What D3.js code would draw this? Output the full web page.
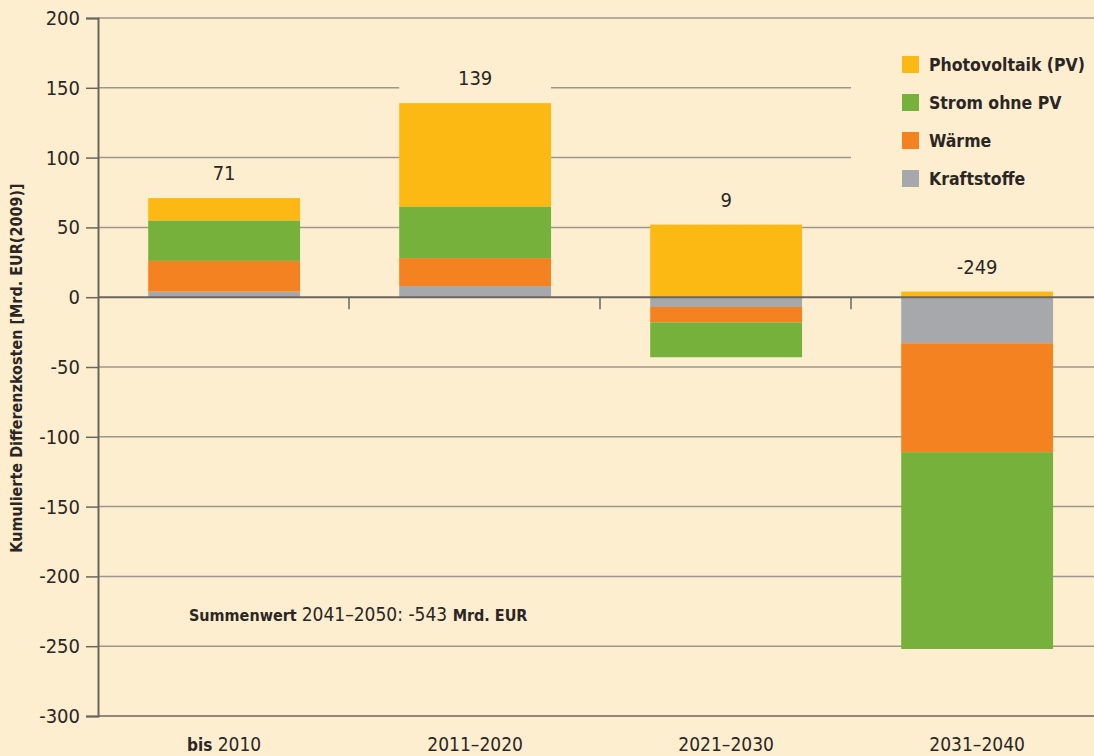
<!DOCTYPE html>
<html>
<head>
<meta charset="utf-8">
<script src="https://cdn.jsdelivr.net/npm/d3@7"></script>
<style>
  body { margin: 0; background: #fdeecf; }
  svg { display: block; }
  .num { font-family: "Liberation Sans Narrow", "DejaVu Sans Condensed", sans-serif; font-size: 20px; fill: #2b2624; }
  .bold { font-family: "DejaVu Sans Condensed", "DejaVu Sans", sans-serif; font-stretch: condensed; font-weight: bold; fill: #2b2624; }
</style>
</head>
<body>
<svg id="vis" width="1094" height="756"></svg>
<script>
// Kumulierte Differenzkosten, Mrd. EUR(2009)
const categories = ["bis 2010", "2011–2020", "2021–2030", "2031–2040"];
const kraftstoffe = [4, 8, -7, -33];
const waerme = [22, 20, -11, -78];
const strom = [29, 37, -25, -141];
const photovoltaik = [16, 74, 52, 4];
const totals = [71, 139, 9, -249];
const yTicks = [-300, -250, -200, -150, -100, -50, 0, 50, 100, 150, 200];

const seriesNames = ["Kraftstoffe", "Wärme", "Strom ohne PV", "Photovoltaik (PV)"];
const legendOrder = ["Photovoltaik (PV)", "Strom ohne PV", "Wärme", "Kraftstoffe"];
const colors = {
  "Photovoltaik (PV)": "#fdb913",
  "Strom ohne PV": "#75b13b",
  "Wärme": "#f58220",
  "Kraftstoffe": "#a7a8ab"
};
const bg = "#fdeecf";

const rows = categories.map(function(c, i) {
  return {
    cat: c,
    "Kraftstoffe": kraftstoffe[i],
    "Wärme": waerme[i],
    "Strom ohne PV": strom[i],
    "Photovoltaik (PV)": photovoltaik[i]
  };
});

const svg = d3.select("#vis");
const plot = { left: 98, right: 1094, top: 18, bottom: 716 };

// the last category runs a little past the right edge of the picture
const band = d3.scaleBand().domain(categories).range([plot.left, 1102]);
const barOffset = band.bandwidth() * 0.2;
const barWidth = band.bandwidth() * 0.605;
const x = function(d) { return band(d) + barOffset; };
const y = d3.scaleLinear().domain([-300, 200]).range([plot.bottom, plot.top]);

// grid lines
svg.append("g").selectAll("line")
  .data(yTicks.filter(function(t) { return t != 0 && t != -300; }))
  .enter().append("line")
  .attr("x1", plot.left).attr("x2", plot.right)
  .attr("y1", function(d) { return y(d); }).attr("y2", function(d) { return y(d); })
  .attr("stroke", "#9c968e").attr("stroke-width", 1.5);

// legend box hides grid lines
svg.append("rect").attr("x", 851).attr("y", 44).attr("width", plot.right - 851).attr("height", 166).attr("fill", bg);

const stack = d3.stack().keys(seriesNames).offset(d3.stackOffsetDiverging);
const stacked = stack(rows);

// label backgrounds
const posTop = rows.map(function(r) {
  return d3.sum(seriesNames, function(k) { return Math.max(0, r[k]); });
});
svg.append("g").selectAll("rect")
  .data(categories)
  .enter().append("rect")
  .attr("x", function(d) { return x(d); })
  .attr("width", barWidth)
  .attr("y", function(d, i) { return y(posTop[i]) - 32; })
  .attr("height", 32)
  .attr("fill", bg);

// bars
svg.append("g").selectAll("g")
  .data(stacked)
  .enter().append("g")
  .attr("fill", function(d) { return colors[d.key]; })
  .selectAll("rect")
  .data(function(d) { return d; })
  .enter().append("rect")
  .attr("x", function(d) { return x(d.data.cat); })
  .attr("width", barWidth)
  .attr("y", function(d) { return y(Math.max(d[0], d[1])); })
  .attr("height", function(d) { return Math.abs(y(d[0]) - y(d[1])); });

// total labels
svg.append("g").selectAll("text")
  .data(totals)
  .enter().append("text")
  .attr("class", "num")
  .attr("text-anchor", "middle")
  .attr("x", function(d, i) { return x(categories[i]) + barWidth / 2; })
  .attr("y", function(d, i) { return y(posTop[i]) - 18; })
  .text(function(d) { return d; });

// zero line and bottom line
svg.append("line").attr("x1", plot.left).attr("x2", plot.right).attr("y1", y(0)).attr("y2", y(0))
  .attr("stroke", "#6a655f").attr("stroke-width", 2);
svg.append("line").attr("x1", plot.left).attr("x2", plot.right).attr("y1", y(-300)).attr("y2", y(-300))
  .attr("stroke", "#6a655f").attr("stroke-width", 1.5);

// category separators on zero line
svg.append("g").selectAll("line")
  .data(categories.slice(1))
  .enter().append("line")
  .attr("x1", function(d) { return band(d); }).attr("x2", function(d) { return band(d); })
  .attr("y1", y(0)).attr("y2", y(0) + 12)
  .attr("stroke", "#6a655f").attr("stroke-width", 1.5);

// y axis
const yAxis = svg.append("g")
  .attr("transform", "translate(" + plot.left + ",0)")
  .call(d3.axisLeft(y).tickValues(yTicks).tickSize(12).tickPadding(6).tickFormat(d3.format("d")));
yAxis.select(".domain").attr("stroke", "#6a655f").attr("stroke-width", 2);
yAxis.selectAll(".tick line").attr("stroke", "#6a655f").attr("stroke-width", 1.5);
yAxis.selectAll(".tick text").attr("class", "num").attr("fill", null).style("font-size", "20px")
  .text(function(d) { return d; });

// x labels
const xl = svg.append("g").selectAll("text")
  .data(categories)
  .enter().append("text")
  .attr("class", "num")
  .attr("text-anchor", "middle")
  .style("font-size", "19px")
  .attr("x", function(d) { return x(d) + barWidth / 2; })
  .attr("y", 751);
xl.each(function(d) {
  const t = d3.select(this);
  if (d.indexOf("bis ") == 0) {
    t.append("tspan").attr("class", "bold").style("font-size", "17px").text("bis ");
    t.append("tspan").text(d.slice(4));
  } else {
    t.text(d);
  }
});

// y title
svg.append("text")
  .attr("class", "bold")
  .attr("transform", "translate(22," + 368 + ") rotate(-90)")
  .attr("text-anchor", "middle")
  .style("font-size", "16px")
  .text("Kumulierte Differenzkosten [Mrd. EUR(2009)]");

// note
const note = svg.append("text").attr("class", "num").attr("x", 189).attr("y", 621).style("font-size", "19px");
note.append("tspan").attr("class", "bold").style("font-size", "16px").text("Summenwert ");
note.append("tspan").text("2041–2050: -543 ");
note.append("tspan").attr("class", "bold").style("font-size", "16px").text("Mrd. EUR");

// legend
const lg = svg.append("g").selectAll("g")
  .data(legendOrder)
  .enter().append("g")
  .attr("transform", function(d, i) { return "translate(902," + (56 + i * 38) + ")"; });
lg.append("rect").attr("width", 17).attr("height", 17).attr("fill", function(d) { return colors[d]; });
lg.append("text").attr("class", "bold").attr("x", 27).attr("y", 15).style("font-size", "17.5px")
  .text(function(d) { return d; });
</script>
</body>
</html>
